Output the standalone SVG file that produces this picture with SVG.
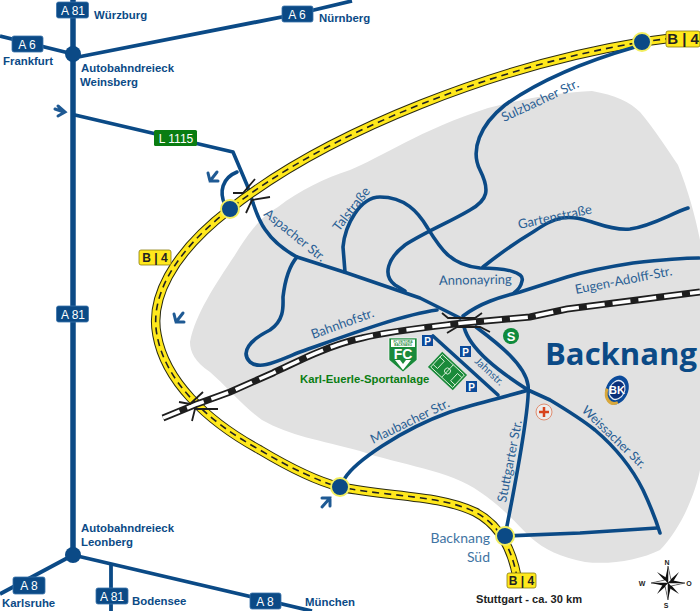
<svg xmlns="http://www.w3.org/2000/svg" width="700" height="611" viewBox="0 0 700 611">
<style>
.hw{fill:none;stroke:#0b4a86;stroke-width:5.5;stroke-linejoin:round}
.hn{fill:none;stroke:#0b4a86;stroke-width:3.8;stroke-linejoin:round}
.st{fill:none;stroke:#0b4a86;stroke-width:3.6;stroke-linejoin:round;stroke-linecap:round}
.br{fill:none;stroke:#1e1e1e;stroke-width:1.8}
.sg{fill:#0b4a86;stroke:#3b74ab;stroke-width:.8}
.sgt{font:12px "Liberation Sans",Arial,sans-serif;fill:#fff;text-anchor:middle}
.bs{fill:#ffe81c;stroke:#8a7d10;stroke-width:.8}
.bst{font:bold 13px "Liberation Sans",Arial,sans-serif;fill:#222;text-anchor:middle}
.pl{font:bold 11.4px "Liberation Sans",Arial,sans-serif;fill:#0b4a86}
.sn{font:13px Lato,"Open Sans",sans-serif;fill:#2a5f94}
.j{fill:#0b4a86}
.c{fill:#0b4a86;stroke:#f2ee60;stroke-width:2}
.p{fill:#0b4a9a}
.pt{font:bold 10px "Liberation Sans",Arial,sans-serif;fill:#fff;text-anchor:middle}
.ar{fill:none;stroke:#1f5a94;stroke-width:3;stroke-linecap:round}
.cp{font:bold 7px "Liberation Sans",Arial,sans-serif;fill:#222;text-anchor:middle}
.rd{fill:none}
.fct{font:bold 3px "Liberation Sans",sans-serif;fill:#1a8a3a;text-anchor:middle}
</style>
<defs>
<path id="b14path" d="M672,38 L642,42 C500,65 330,130 230,209 C170,255 150,300 157,335 C165,380 205,420 260,450 C290,468 320,482 340,487 C390,497 440,495 475,512 C500,525 512,550 517,577"/>
<path id="railpath" d="M163,418 L197,404 L230,392 L273,373 C300,360 330,345 362,338 C390,331 430,327 463,323 L530,317 L567,309 L700,292"/>
</defs>
<rect width="700" height="611" fill="#fff"/>
<path id="town" fill="#e1e1e1" d="M190,342 C195,315 215,285 235,255 C250,230 262,216 278,207 C300,190 325,178 350,170 C380,158 420,130 488,108 C530,97 565,92 592,91 C615,95 630,102 640,112 C655,130 668,150 678,165 C688,190 695,215 700,240 L700,470 C695,495 680,530 660,550 C640,560 610,565 585,562 C560,557 545,550 530,537 C515,522 500,505 480,492 C450,470 400,465 360,451 C320,440 290,436 262,420 C245,408 225,385 210,372 C195,362 190,352 190,342 Z"/>
<g id="connectors">
<path class="hw" d="M73,0 V555"/>
<path class="hn" d="M0,36 L73,54"/>
<path class="hn" d="M73,58 L297,14 L352,1"/>
<path class="hn" d="M73,555 L0,594"/>
<path class="hn" d="M73,555 L312,611"/>
<path class="hn" d="M111,565 V611"/>
<path class="st" d="M75,115 L233,152 L247,185 L253,203"/>
<path class="st" d="M237,172 C222,178 219,192 225,205"/>
<use href="#b14path" class="rd" stroke="#2a2a10" stroke-width="9.500"/>
<use href="#b14path" class="rd" stroke="#ffe81c" stroke-width="7.500"/>
<use href="#b14path" class="rd" stroke="#222" stroke-width="1.600" stroke-dasharray="7 5"/>
<path class="st" d="M635,47 C590,60 540,80 505,105 C480,125 470,150 480,170 C490,190 488,200 470,210 C450,222 425,232 405,245 C388,258 382,275 395,285 L405,291"/>
<path class="st" d="M253,203 C258,218 265,240 297,257 L347,273 L420,298 L460,318"/>
<path class="st" d="M345,272 L343,247 C345,225 360,197 380,197 C405,197 418,212 427,227 C440,248 450,265 480,268 C505,268 525,272 522,281 C521,287 518,290 514,293"/>
<path class="st" d="M483,267 C498,255 518,241 533,232 C545,224 552,220 562,218 C575,216 585,220 595,223 C610,228 620,230 630,229 C652,226 670,214 688,208"/>
<path class="st" d="M463,316 C480,303 500,297 520,292 L567,277 C590,270 620,265 633,263 C660,260 680,258 699,258"/>
<path class="st" d="M437,310 C400,315 340,338 300,352 C275,362 260,370 250,362 C240,352 250,340 270,330 C285,320 283,305 283,297 C285,280 290,265 297,257"/>
<path class="st" d="M464,327 C470,350 500,372 528,390 L550,400 C570,412 585,422 595,430 C615,447 632,468 643,490 C650,505 656,520 660,533"/>
<path class="st" d="M476,327 C500,345 525,365 528,385 C530,400 522,450 505,536"/>
<path class="st" d="M345,478 C355,462 400,430 450,412 C480,402 510,396 528,390"/>
<path class="st" d="M433,336 L498,395"/>
<path class="st" d="M505,536 L580,533 L657,528"/>
<use href="#railpath" class="rd" stroke="#1e1e1e" stroke-width="7"/>
<use href="#railpath" class="rd" stroke="#fff" stroke-width="3.500" stroke-dasharray="18 8"/>
<path class="br" d="M233,193 L243,193 L255,179"/>
<path class="br" d="M246,213 L252,200 L270,197"/>
<path class="br" d="M179,402 L190,404 L203,392"/>
<path class="br" d="M192,421 L195,409 L218,409"/>
<path class="br" d="M442,313 L448,318 H475 L482,313"/>
<path class="br" d="M447,333 L457,327 H480 L490,332"/>
</g>
<g id="junctions">
<circle class="j" cx="73" cy="54" r="8"/>
<circle class="j" cx="73" cy="555" r="8"/>
<circle class="c" cx="230" cy="209" r="9"/>
<circle class="c" cx="642" cy="42" r="9"/>
<circle class="c" cx="340" cy="487" r="9"/>
<circle class="c" cx="505" cy="536" r="9"/>
</g>
<g id="sign-a81-n"><rect class="sg" x="56.500" y="2" width="32" height="16" rx="2"/><text class="sgt" x="73" y="15">A 81</text></g>
<g id="sign-a6-e"><rect class="sg" x="282" y="6" width="31" height="16" rx="2"/><text class="sgt" x="297" y="19">A 6</text></g>
<g id="sign-a6-w"><rect class="sg" x="12" y="36" width="31" height="16" rx="2"/><text class="sgt" x="27" y="49">A 6</text></g>
<g id="sign-a81-m"><rect class="sg" x="56.500" y="306" width="32" height="16" rx="2"/><text class="sgt" x="73" y="319">A 81</text></g>
<g id="sign-a8-w"><rect class="sg" x="13" y="577" width="32" height="17" rx="2"/><text class="sgt" x="29" y="590">A 8</text></g>
<g id="sign-a81-s"><rect class="sg" x="96" y="588" width="32" height="16" rx="2"/><text class="sgt" x="112" y="601">A 81</text></g>
<g id="sign-a8-e"><rect class="sg" x="250" y="593" width="31" height="16" rx="2"/><text class="sgt" x="265" y="606">A 8</text></g>
<g id="sign-l1115"><rect x="154" y="130" width="43" height="16" rx="1.500" fill="#0a7d12"/><text class="sgt" x="176" y="143">L 1115</text></g>
<g id="sign-b14-e"><rect class="bs" x="666" y="31" width="34" height="16" rx="2"/><text class="bst" x="683" y="44" style="font-size:15px">B | 4</text></g>
<g id="sign-b14-w"><rect class="bs" x="139" y="250" width="32" height="15" rx="2"/><text class="bst" x="155" y="262" style="font-size:12px">B | 4</text></g>
<g id="sign-b14-s"><rect class="bs" x="507" y="573" width="29" height="15" rx="2"/><text class="bst" x="521.500" y="585" style="font-size:12px">B | 4</text></g>
<g id="places">
<text class="pl" x="94" y="19">Würzburg</text>
<text class="pl" x="319" y="22">Nürnberg</text>
<text class="pl" x="3" y="65">Frankfurt</text>
<text class="pl" x="81" y="72">Autobahndreieck</text>
<text class="pl" x="80" y="86">Weinsberg</text>
<text class="pl" x="81" y="532">Autobahndreieck</text>
<text class="pl" x="81" y="546">Leonberg</text>
<text class="pl" x="2" y="607">Karlsruhe</text>
<text class="pl" x="132" y="605">Bodensee</text>
<text class="pl" x="305" y="606">München</text>
<text x="476" y="603" style="font:bold 11.1px 'Liberation Sans',Arial,sans-serif;fill:#222">Stuttgart - ca. 30 km</text>
<text x="300" y="383" style="font:bold 11.300px 'Liberation Sans',Arial,sans-serif;fill:#0a7d12">Karl-Euerle-Sportanlage</text>
<text x="545" y="365" textLength="152" lengthAdjust="spacingAndGlyphs" style="font:bold 30.500px 'Open Sans',Lato,sans-serif;fill:#0b4a86">Backnang</text>
<text x="490" y="543" text-anchor="end" style="font:14px Lato,'Open Sans',sans-serif;fill:#3f74a3">Backnang</text>
<text x="490" y="562" text-anchor="end" style="font:14px Lato,'Open Sans',sans-serif;fill:#3f74a3">Süd</text>
</g>
<g id="streets">
<text class="sn" transform="translate(504,122) rotate(-25)">Sulzbacher Str.</text>
<text class="sn" transform="translate(339,232) rotate(-52)">Talstraße</text>
<text class="sn" transform="translate(519,229) rotate(-12)">Gartenstraße</text>
<text class="sn" transform="translate(263,215) rotate(39)">Aspacher Str.</text>
<text class="sn" transform="translate(439,285) rotate(-1)">Annonayring</text>
<text class="sn" transform="translate(576,294) rotate(-11)">Eugen-Adolff-Str.</text>
<text class="sn" transform="translate(313,339) rotate(-20)">Bahnhofstr.</text>
<text class="sn" style="font-size:10.500px" transform="translate(474,362) rotate(43)">Jahnstr.</text>
<text class="sn" transform="translate(373,444) rotate(-26)">Maubacher Str.</text>
<text class="sn" transform="translate(506,503) rotate(-79)">Stuttgarter Str.</text>
<text class="sn" style="font-size:12.500px" transform="translate(581,411) rotate(44)">Weissacher Str.</text>
</g>
<g id="arrows">
<path class="ar" d="M55,109 L64,112 M58,106 L65,112 L58,116"/>
<path class="ar" d="M217,172 L210,181 M208,173 L210,181 L218,181"/>
<path class="ar" d="M183,313 L176,322 M174,314 L176,322 L184,322"/>
<path class="ar" d="M322,507 L330,498 M322,498 L330,498 L330,506"/>
</g>
<g id="parking">
<rect class="p" x="422" y="335" width="11" height="11"/><text class="pt" x="427.500" y="344.500">P</text>
<rect class="p" x="460" y="346" width="11" height="11"/><text class="pt" x="465.500" y="355.500">P</text>
<rect class="p" x="466" y="381" width="11" height="11"/><text class="pt" x="471.500" y="390.500">P</text>
</g>
<g id="s-bahn"><circle cx="511" cy="336" r="8" fill="#0f8a3c"/><text x="511" y="340.500" text-anchor="middle" style="font:bold 13px 'Liberation Sans',sans-serif;fill:#fff">S</text></g>
<g id="hospital"><circle cx="544" cy="412" r="8" fill="#ececec" stroke="#e08d70"/><path d="M544,407 V417 M539,412 H549" stroke="#d8431c" stroke-width="2.500"/></g>
<g id="fc-logo">
<path d="M389,338 H417 V360 L403,372 L389,360 Z" fill="#1a8a3a" stroke="#fff" stroke-width=".6"/>
<rect x="391" y="339.500" width="24" height="7.500" fill="#fff"/>
<text class="fct" x="403" y="342.500">FC VIKTORIA</text>
<text class="fct" x="403" y="346.300">BACKNANG</text>
<text x="403" y="359" text-anchor="middle" style="font:bold 14px 'Liberation Sans',sans-serif;fill:#fff">FC</text>
<path d="M395,360 L403,370 L411,360 H406 L403,364 L400,360 Z" fill="#fff"/>
</g>
<g id="field" transform="translate(447.500,371) rotate(43)">
<rect x="-17" y="-10.500" width="34" height="21" fill="#1a8a3a"/>
<path d="M0,-8.500 V8.500 M-15,-8.500 H15 V8.500 H-15 Z M-15,-5 H-9 V5 H-15 M15,-5 H9 V5 H15" fill="none" stroke="#dff0dd" stroke-width=".9"/>
<circle r="3" fill="none" stroke="#dff0dd" stroke-width=".9"/>
</g>
<g id="bk-logo" transform="translate(617,390) rotate(25)">
<ellipse rx="11" ry="15" fill="#0b4a9a"/>
<path d="M-11,3 A11,15 0 0 0 7,12 L5,10 A8,11 0 0 1 -8,3 Z" fill="#d9a83c"/>
<ellipse rx="8" ry="10.500" fill="#fff" opacity=".9"/>
<ellipse cx="0" cy="0" rx="7" ry="9" fill="#0b2f7a"/>
<text x="0" y="4" text-anchor="middle" transform="rotate(-25)" style="font:bold 11px 'Liberation Sans',sans-serif;fill:#fff">BK</text>
</g>
<g id="compass" transform="translate(668,583)">
<path d="M-11,-11 L2,-3 L11,-11 L3,2 L11,11 L-2,3 L-11,11 L-3,-2 Z" fill="#111"/>
<path d="M0,-17 L3,-3 L17,0 L3,3 L0,17 L-3,3 L-17,0 L-3,-3 Z" fill="#111"/>
<path d="M0,-17 L3,-3 L0,0 Z M17,0 L3,3 L0,0 Z M0,17 L-3,3 L0,0 Z M-17,0 L-3,-3 L0,0 Z" fill="#fff" stroke="#111" stroke-width=".5"/>
<text class="cp" x="-1" y="-18">N</text><text class="cp" x="-26" y="2.500">W</text><text class="cp" x="21" y="2.500">O</text><text class="cp" x="-2" y="25">S</text>
</g>
</svg>
